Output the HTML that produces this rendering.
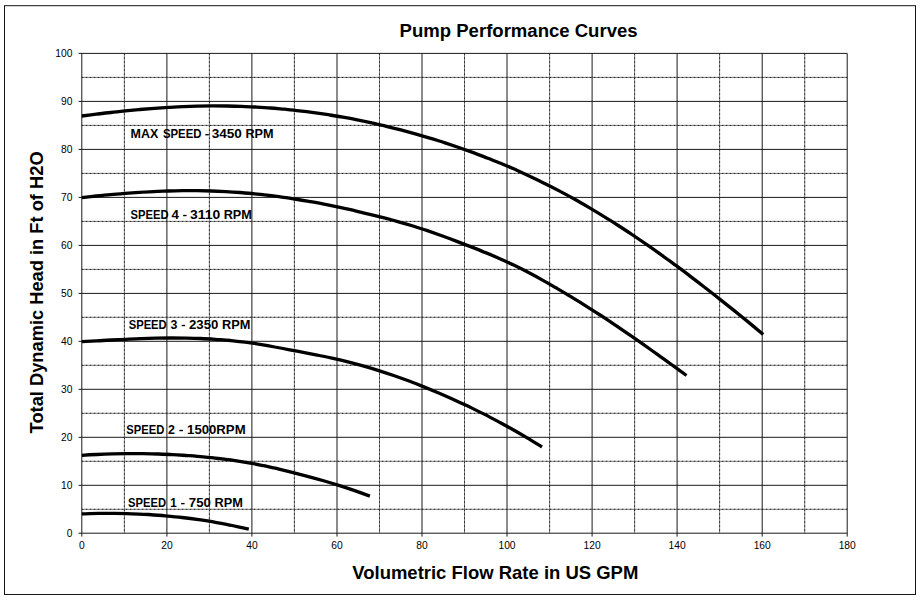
<!DOCTYPE html>
<html><head><meta charset="utf-8"><title>Pump Performance Curves</title>
<style>
html,body{margin:0;padding:0;background:#fff;}
body{width:922px;height:601px;overflow:hidden;position:relative;font-family:"Liberation Sans",sans-serif;}
text{font-family:"Liberation Sans",sans-serif;fill:#000;}
.tk{font-size:10.7px;fill:#000;}
.ti{font-size:18px;font-weight:bold;}
.ax{font-size:18.2px;font-weight:bold;}
.lb{font-size:13.4px;font-weight:bold;}
</style></head><body>
<svg width="922" height="601" viewBox="0 0 922 601" style="position:absolute;left:0;top:0">
<rect x="4.5" y="5.7" width="911" height="588.8" fill="#fff" stroke="#151515" stroke-width="1"/>
<path d="M81.8,509.3H847.2M81.8,461.3H847.2M81.8,413.3H847.2M81.8,365.3H847.2M81.8,317.3H847.2M81.8,269.4H847.2M81.8,221.4H847.2M81.8,173.4H847.2M81.8,125.4H847.2M81.8,77.4H847.2M124.4,53.4V533.2M209.4,53.4V533.2M294.4,53.4V533.2M379.5,53.4V533.2M464.5,53.4V533.2M549.6,53.4V533.2M634.6,53.4V533.2M719.6,53.4V533.2M804.7,53.4V533.2" fill="none" stroke="#7c7c7c" stroke-width="1"/>
<path d="M81.8,509.3H847.2M81.8,461.3H847.2M81.8,413.3H847.2M81.8,365.3H847.2M81.8,317.3H847.2M81.8,269.4H847.2M81.8,221.4H847.2M81.8,173.4H847.2M81.8,125.4H847.2M81.8,77.4H847.2M124.4,53.4V533.2M209.4,53.4V533.2M294.4,53.4V533.2M379.5,53.4V533.2M464.5,53.4V533.2M549.6,53.4V533.2M634.6,53.4V533.2M719.6,53.4V533.2M804.7,53.4V533.2" fill="none" stroke="#262626" stroke-width="1" stroke-dasharray="1.5 2.5"/>
<path d="M78.6,533.2H847.2M78.6,485.3H847.2M78.6,437.3H847.2M78.6,389.3H847.2M78.6,341.3H847.2M78.6,293.4H847.2M78.6,245.4H847.2M78.6,197.4H847.2M78.6,149.4H847.2M78.6,101.4H847.2M78.6,53.4H847.2M81.8,53.4V536.6M166.9,53.4V536.6M251.9,53.4V536.6M337.0,53.4V536.6M422.0,53.4V536.6M507.0,53.4V536.6M592.1,53.4V536.6M677.1,53.4V536.6M762.2,53.4V536.6M847.2,53.4V536.6" fill="none" stroke="#1a1a1a" stroke-width="1"/>
<path d="M81.8,116.0C84.3,115.7 91.5,114.8 96.3,114.2C101.2,113.6 106.0,113.0 110.8,112.5C115.7,111.9 120.5,111.4 125.3,110.9C130.2,110.4 135.0,110.0 139.8,109.5C144.7,109.1 149.5,108.7 154.3,108.3C159.2,108.0 164.0,107.7 168.8,107.4C173.7,107.1 178.5,106.8 183.3,106.6C188.2,106.4 193.0,106.3 197.8,106.1C202.7,106.0 207.5,105.9 212.3,105.9C217.2,105.9 222.0,105.9 226.8,106.0C231.7,106.1 236.5,106.2 241.3,106.4C246.1,106.5 251.0,106.8 255.8,107.0C260.6,107.3 265.5,107.6 270.3,108.0C275.1,108.3 280.0,108.8 284.8,109.2C289.6,109.7 294.5,110.2 299.3,110.8C304.1,111.3 309.0,111.9 313.8,112.6C318.6,113.3 323.5,114.0 328.3,114.7C333.1,115.5 338.0,116.3 342.8,117.2C347.6,118.0 352.5,118.9 357.3,119.9C362.1,120.9 367.0,121.9 371.8,122.9C376.6,124.0 381.5,125.1 386.3,126.3C391.1,127.4 395.9,128.6 400.8,129.9C405.6,131.2 410.4,132.5 415.3,133.8C420.1,135.2 424.9,136.6 429.8,138.1C434.6,139.5 439.4,141.1 444.3,142.6C449.1,144.2 453.9,145.8 458.8,147.5C463.6,149.2 468.4,150.9 473.3,152.6C478.1,154.4 482.9,156.3 487.8,158.2C492.6,160.0 497.4,162.0 502.3,164.0C507.1,166.0 511.9,168.1 516.8,170.2C521.6,172.4 526.4,174.6 531.3,176.9C536.1,179.2 540.9,181.5 545.7,183.9C550.6,186.3 555.4,188.8 560.2,191.4C565.1,193.9 569.9,196.6 574.7,199.3C579.6,202.0 584.4,204.8 589.2,207.6C594.1,210.5 598.9,213.4 603.7,216.4C608.6,219.3 613.4,222.4 618.2,225.5C623.1,228.6 627.9,231.8 632.7,235.0C637.6,238.3 642.4,241.6 647.2,244.9C652.1,248.3 656.9,251.7 661.7,255.2C666.6,258.6 671.4,262.2 676.2,265.7C681.1,269.3 685.9,272.9 690.7,276.6C695.5,280.2 700.4,284.0 705.2,287.7C710.0,291.4 714.9,295.2 719.7,299.1C724.5,302.9 729.4,306.8 734.2,310.6C739.0,314.5 743.9,318.5 748.7,322.4C753.5,326.4 760.8,332.4 763.2,334.4" fill="none" stroke="#000" stroke-width="3.3" stroke-linecap="butt" stroke-linejoin="round"/>
<path d="M81.8,197.6C84.2,197.3 91.4,196.5 96.2,196.0C101.0,195.5 105.8,195.0 110.6,194.6C115.4,194.1 120.2,193.7 125.0,193.3C129.8,193.0 134.6,192.6 139.4,192.3C144.2,192.0 149.0,191.8 153.8,191.6C158.6,191.3 163.4,191.2 168.2,191.0C173.0,190.9 177.8,190.8 182.6,190.7C187.4,190.7 192.2,190.7 197.0,190.7C201.8,190.8 206.6,190.9 211.4,191.0C216.2,191.2 221.0,191.4 225.8,191.6C230.6,191.9 235.4,192.2 240.2,192.5C245.0,192.9 249.8,193.3 254.6,193.8C259.4,194.2 264.2,194.8 269.0,195.4C273.8,195.9 278.6,196.6 283.4,197.3C288.2,197.9 293.0,198.7 297.8,199.5C302.6,200.2 307.4,201.1 312.2,201.9C317.0,202.8 321.8,203.7 326.6,204.7C331.4,205.6 336.2,206.6 341.0,207.7C345.8,208.7 350.6,209.7 355.4,210.8C360.2,211.9 365.0,213.1 369.8,214.3C374.6,215.4 379.4,216.6 384.2,217.9C389.0,219.1 393.8,220.4 398.6,221.8C403.4,223.1 408.2,224.5 413.0,226.0C417.8,227.5 422.6,229.0 427.4,230.6C432.2,232.3 437.0,234.0 441.8,235.7C446.6,237.4 451.4,239.2 456.2,241.1C461.0,242.9 465.8,244.7 470.6,246.6C475.4,248.5 480.2,250.4 484.9,252.4C489.7,254.3 494.5,256.3 499.3,258.5C504.1,260.6 508.9,262.8 513.7,265.1C518.5,267.4 523.3,269.8 528.1,272.3C532.9,274.8 537.7,277.4 542.5,280.1C547.3,282.8 552.1,285.5 556.9,288.3C561.7,291.1 566.5,293.9 571.3,296.9C576.1,299.8 580.9,302.8 585.7,305.8C590.5,308.8 595.3,311.9 600.1,315.0C604.9,318.2 609.7,321.3 614.5,324.6C619.3,327.8 624.1,331.1 628.9,334.4C633.7,337.7 638.5,341.0 643.3,344.4C648.1,347.8 652.9,351.2 657.7,354.6C662.5,358.0 667.3,361.5 672.1,365.0C676.9,368.5 684.1,373.7 686.5,375.5" fill="none" stroke="#000" stroke-width="3.3" stroke-linecap="butt" stroke-linejoin="round"/>
<path d="M81.8,341.6C84.3,341.5 91.7,341.1 96.7,340.8C101.6,340.6 106.6,340.3 111.5,340.0C116.5,339.8 121.4,339.5 126.4,339.3C131.3,339.0 136.3,338.8 141.2,338.6C146.2,338.5 151.1,338.3 156.1,338.2C161.0,338.1 166.0,338.0 170.9,338.0C175.9,338.0 180.8,338.0 185.8,338.1C190.7,338.2 195.7,338.3 200.6,338.5C205.5,338.7 210.5,339.0 215.4,339.3C220.4,339.7 225.3,340.0 230.3,340.5C235.2,341.0 240.2,341.5 245.1,342.2C250.1,342.8 255.0,343.5 260.0,344.3C264.9,345.1 269.9,346.0 274.8,347.0C279.8,347.9 284.7,348.8 289.7,349.8C294.6,350.7 299.6,351.7 304.5,352.6C309.5,353.6 314.4,354.5 319.3,355.5C324.3,356.5 329.2,357.6 334.2,358.7C339.1,359.8 344.1,361.0 349.0,362.2C354.0,363.5 358.9,364.8 363.9,366.2C368.8,367.6 373.8,369.1 378.7,370.6C383.7,372.2 388.6,373.8 393.6,375.5C398.5,377.2 403.5,379.0 408.4,380.8C413.4,382.7 418.3,384.6 423.3,386.6C428.2,388.6 433.1,390.6 438.1,392.7C443.0,394.8 448.0,397.0 452.9,399.2C457.9,401.5 462.8,403.8 467.8,406.1C472.7,408.5 477.7,410.9 482.6,413.4C487.6,415.9 492.5,418.5 497.5,421.1C502.4,423.8 507.4,426.5 512.3,429.3C517.3,432.1 522.2,434.9 527.2,437.9C532.1,440.8 539.5,445.5 542.0,447.0" fill="none" stroke="#000" stroke-width="3.3" stroke-linecap="butt" stroke-linejoin="round"/>
<path d="M81.8,455.4C84.4,455.2 92.0,454.7 97.0,454.5C102.1,454.2 107.1,454.0 112.2,453.9C117.2,453.7 122.3,453.6 127.3,453.6C132.4,453.6 137.4,453.6 142.5,453.6C147.5,453.7 152.6,453.8 157.7,454.0C162.7,454.2 167.8,454.4 172.8,454.7C177.9,454.9 182.9,455.3 188.0,455.6C193.0,456.0 198.1,456.4 203.1,456.9C208.2,457.4 213.2,457.9 218.3,458.5C223.3,459.1 228.4,459.7 233.5,460.4C238.5,461.1 243.6,461.9 248.6,462.8C253.7,463.7 258.7,464.7 263.8,465.7C268.8,466.8 273.9,467.9 278.9,469.1C284.0,470.3 289.0,471.5 294.1,472.8C299.2,474.1 304.2,475.4 309.3,476.8C314.3,478.1 319.4,479.5 324.4,481.0C329.5,482.5 334.5,484.0 339.6,485.6C344.6,487.2 349.7,488.9 354.7,490.6C359.8,492.4 367.4,495.2 369.9,496.1" fill="none" stroke="#000" stroke-width="3.3" stroke-linecap="butt" stroke-linejoin="round"/>
<path d="M81.8,513.8C84.6,513.8 93.0,513.5 98.5,513.4C104.1,513.3 109.7,513.3 115.2,513.4C120.8,513.4 126.4,513.6 131.9,513.8C137.5,513.9 143.1,514.2 148.6,514.5C154.2,514.9 159.8,515.3 165.3,515.8C170.9,516.3 176.5,516.8 182.0,517.5C187.6,518.1 193.2,518.8 198.7,519.6C204.3,520.5 209.8,521.3 215.4,522.3C221.0,523.3 226.5,524.4 232.1,525.5C237.7,526.7 246.0,528.6 248.8,529.2" fill="none" stroke="#000" stroke-width="3.3" stroke-linecap="butt" stroke-linejoin="round"/>
<text x="72.4" y="537.0" text-anchor="end" class="tk" textLength="5.7" lengthAdjust="spacingAndGlyphs">0</text>
<text x="72.4" y="489.0" text-anchor="end" class="tk" textLength="11.4" lengthAdjust="spacingAndGlyphs">10</text>
<text x="72.4" y="441.0" text-anchor="end" class="tk" textLength="11.4" lengthAdjust="spacingAndGlyphs">20</text>
<text x="72.4" y="393.0" text-anchor="end" class="tk" textLength="11.4" lengthAdjust="spacingAndGlyphs">30</text>
<text x="72.4" y="345.0" text-anchor="end" class="tk" textLength="11.4" lengthAdjust="spacingAndGlyphs">40</text>
<text x="72.4" y="297.1" text-anchor="end" class="tk" textLength="11.4" lengthAdjust="spacingAndGlyphs">50</text>
<text x="72.4" y="249.1" text-anchor="end" class="tk" textLength="11.4" lengthAdjust="spacingAndGlyphs">60</text>
<text x="72.4" y="201.1" text-anchor="end" class="tk" textLength="11.4" lengthAdjust="spacingAndGlyphs">70</text>
<text x="72.4" y="153.1" text-anchor="end" class="tk" textLength="11.4" lengthAdjust="spacingAndGlyphs">80</text>
<text x="72.4" y="105.1" text-anchor="end" class="tk" textLength="11.4" lengthAdjust="spacingAndGlyphs">90</text>
<text x="72.4" y="57.1" text-anchor="end" class="tk" textLength="17.1" lengthAdjust="spacingAndGlyphs">100</text>
<text x="81.8" y="549.2" text-anchor="middle" class="tk" textLength="5.7" lengthAdjust="spacingAndGlyphs">0</text>
<text x="166.9" y="549.2" text-anchor="middle" class="tk" textLength="11.4" lengthAdjust="spacingAndGlyphs">20</text>
<text x="251.9" y="549.2" text-anchor="middle" class="tk" textLength="11.4" lengthAdjust="spacingAndGlyphs">40</text>
<text x="337.0" y="549.2" text-anchor="middle" class="tk" textLength="11.4" lengthAdjust="spacingAndGlyphs">60</text>
<text x="422.0" y="549.2" text-anchor="middle" class="tk" textLength="11.4" lengthAdjust="spacingAndGlyphs">80</text>
<text x="507.0" y="549.2" text-anchor="middle" class="tk" textLength="17.1" lengthAdjust="spacingAndGlyphs">100</text>
<text x="592.1" y="549.2" text-anchor="middle" class="tk" textLength="17.1" lengthAdjust="spacingAndGlyphs">120</text>
<text x="677.1" y="549.2" text-anchor="middle" class="tk" textLength="17.1" lengthAdjust="spacingAndGlyphs">140</text>
<text x="762.2" y="549.2" text-anchor="middle" class="tk" textLength="17.1" lengthAdjust="spacingAndGlyphs">160</text>
<text x="847.2" y="549.2" text-anchor="middle" class="tk" textLength="17.1" lengthAdjust="spacingAndGlyphs">180</text>
<text x="518.6" y="37" text-anchor="middle" class="ti" textLength="238" lengthAdjust="spacingAndGlyphs">Pump Performance Curves</text>
<text x="495.3" y="578.6" text-anchor="middle" class="ax" textLength="286" lengthAdjust="spacingAndGlyphs">Volumetric Flow Rate in US GPM</text>
<text transform="translate(43.1,292.4) rotate(-90)" text-anchor="middle" class="ax" textLength="282" lengthAdjust="spacingAndGlyphs">Total Dynamic Head in Ft of H2O</text>
<text x="130.5" y="138.0" class="lb" textLength="27.7" lengthAdjust="spacingAndGlyphs">MAX</text>
<text x="162.9" y="138.0" class="lb" textLength="38.6" lengthAdjust="spacingAndGlyphs">SPEED</text>
<rect x="205.3" y="134.05" width="3.5" height="1.35" fill="#000"/>
<text x="211.7" y="138.0" class="lb" textLength="30.2" lengthAdjust="spacingAndGlyphs">3450</text>
<text x="245.4" y="138.0" class="lb" textLength="28.1" lengthAdjust="spacingAndGlyphs">RPM</text>
<text x="130.5" y="218.8" class="lb" textLength="38.0" lengthAdjust="spacingAndGlyphs">SPEED</text>
<text x="171.6" y="218.8" class="lb" textLength="7.4" lengthAdjust="spacingAndGlyphs">4</text>
<rect x="183.1" y="214.85" width="3.5" height="1.35" fill="#000"/>
<text x="190.0" y="218.8" class="lb" textLength="30.2" lengthAdjust="spacingAndGlyphs">3110</text>
<text x="223.7" y="218.8" class="lb" textLength="28.2" lengthAdjust="spacingAndGlyphs">RPM</text>
<text x="128.7" y="328.8" class="lb" textLength="38.0" lengthAdjust="spacingAndGlyphs">SPEED</text>
<text x="170.4" y="328.8" class="lb" textLength="6.9" lengthAdjust="spacingAndGlyphs">3</text>
<rect x="181.7" y="324.85" width="3.5" height="1.35" fill="#000"/>
<text x="189.0" y="328.8" class="lb" textLength="29.4" lengthAdjust="spacingAndGlyphs">2350</text>
<text x="222.1" y="328.8" class="lb" textLength="28.4" lengthAdjust="spacingAndGlyphs">RPM</text>
<text x="126.3" y="433.8" class="lb" textLength="38.0" lengthAdjust="spacingAndGlyphs">SPEED</text>
<text x="168.0" y="433.8" class="lb" textLength="6.9" lengthAdjust="spacingAndGlyphs">2</text>
<rect x="179.4" y="429.85" width="3.5" height="1.35" fill="#000"/>
<text x="187.1" y="433.8" class="lb" textLength="58.5" lengthAdjust="spacingAndGlyphs">1500RPM</text>
<text x="128.1" y="506.9" class="lb" textLength="38.0" lengthAdjust="spacingAndGlyphs">SPEED</text>
<text x="170.2" y="506.9" class="lb" textLength="6.5" lengthAdjust="spacingAndGlyphs">1</text>
<rect x="181.1" y="502.95" width="3.5" height="1.35" fill="#000"/>
<text x="188.8" y="506.9" class="lb" textLength="22.0" lengthAdjust="spacingAndGlyphs">750</text>
<text x="214.5" y="506.9" class="lb" textLength="28.4" lengthAdjust="spacingAndGlyphs">RPM</text>
</svg>
</body></html>
